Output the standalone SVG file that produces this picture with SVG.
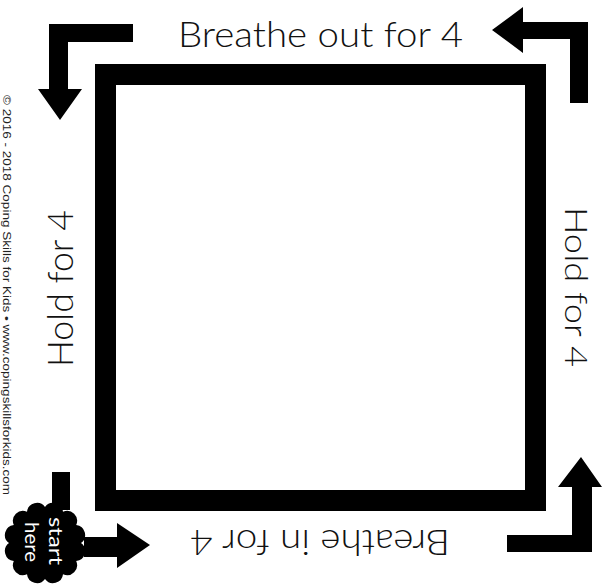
<svg xmlns="http://www.w3.org/2000/svg" width="602" height="584" viewBox="0 0 602 584">
<style>
.lbl{font-family:"Lato","Open Sans","DejaVu Sans",sans-serif;font-weight:300;fill:#111;}
.arrow{fill:#000;}
.small{font-family:"Liberation Sans",Arial,sans-serif;fill:#222;}
.start{font-family:"Lato","DejaVu Sans",sans-serif;font-weight:400;fill:#fff;}
</style>
<rect width="602" height="584" fill="#fff"/>
<g id="box">
<rect x="105.5" y="74.5" width="430" height="426" fill="none" stroke="#000" stroke-width="21"/>
</g>
<g id="connectors">
<path class="arrow" d="M133,24 L49,24 L49,89 L38,89 L60,120 L82,89 L68,89 L68,42 L133,42 Z"/>
<path class="arrow" d="M588,22 L588,103 L570,103 L570,39 L523,39 L523,53 L492,30 L523,7 L523,22 Z"/>
<path class="arrow" d="M507,535 L572,535 L572,487 L558,487 L581,457 L602,487 L592,487 L592,552 L507,552 Z"/>
<path class="arrow" d="M52,472 L70,472 L70,510 L52,510 Z"/>
<path class="arrow" d="M84,537 L117,537 L117,523 L150,545 L117,568 L117,557 L84,557 Z"/>
</g>
<g id="label-top">
<text class="lbl" x="178" y="47" font-size="36" textLength="285" lengthAdjust="spacingAndGlyphs">Breathe out for 4</text>
</g>
<g id="label-bottom">
<text class="lbl" transform="translate(450,530) rotate(180)" x="0" y="0" font-size="35" textLength="260" lengthAdjust="spacingAndGlyphs">Breathe in for 4</text>
</g>
<g id="label-left">
<text class="lbl" transform="translate(73,367) rotate(-90)" x="0" y="0" font-size="35" textLength="157" lengthAdjust="spacingAndGlyphs">Hold for 4</text>
</g>
<g id="label-right">
<text class="lbl" transform="translate(565,207) rotate(90)" x="0" y="0" font-size="32" textLength="160" lengthAdjust="spacingAndGlyphs">Hold for 4</text>
</g>
<g id="start">
<path fill="#000" d="M81,543 A10,10 0 0,1 76.2,561 A10,10 0 0,1 63,574.2 A10,10 0 0,1 45,579 A10,10 0 0,1 27,574.2 A10,10 0 0,1 13.8,561 A10,10 0 0,1 9,543 A10,10 0 0,1 13.8,525 A10,10 0 0,1 27,511.8 A10,10 0 0,1 45,507 A10,10 0 0,1 63,511.8 A10,10 0 0,1 76.2,525 A10,10 0 0,1 81,543 Z"/>
<text class="start" transform="translate(49,517) rotate(90)" x="0" y="0" font-size="19" textLength="48" lengthAdjust="spacingAndGlyphs">start</text>
<text class="start" transform="translate(25,522) rotate(90)" x="0" y="0" font-size="19" textLength="40" lengthAdjust="spacingAndGlyphs">here</text>
</g>
<g id="copyright">
<text class="small" transform="translate(3,95) rotate(90)" x="0" y="0" font-size="10" textLength="400" lengthAdjust="spacingAndGlyphs">© 2016 - 2018 Coping Skills for Kids • www.copingskillsforkids.com</text>
</g>
</svg>
